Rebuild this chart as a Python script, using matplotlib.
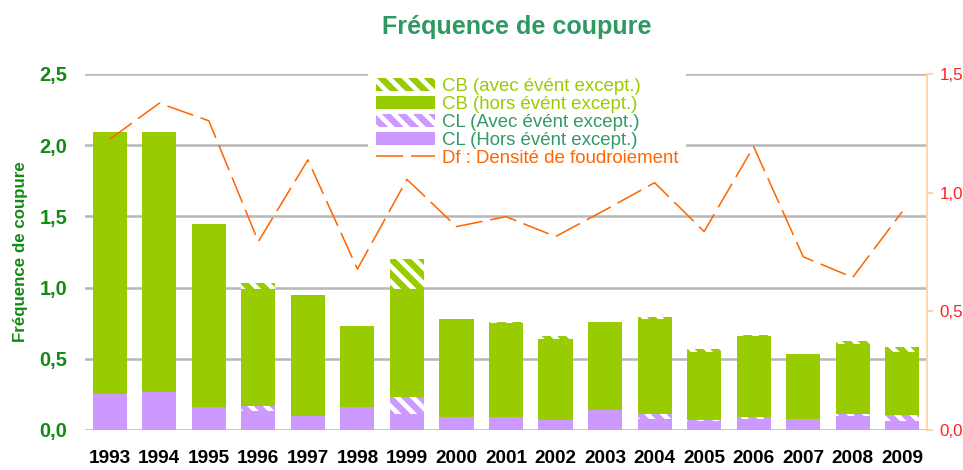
import matplotlib
matplotlib.use("Agg")
import matplotlib.pyplot as plt
import numpy as np

plt.rcParams['font.family'] = ['Liberation Sans', 'DejaVu Sans']
plt.rcParams['hatch.linewidth'] = 2.4
plt.rcParams['lines.scale_dashes'] = False

annees = [str(a) for a in range(1993, 2010)]
cl_hors = [0.25, 0.265, 0.16, 0.13, 0.10, 0.16, 0.115, 0.09, 0.09, 0.07,
           0.14, 0.08, 0.06, 0.08, 0.08, 0.095, 0.065]
cl_avec = [0, 0, 0, 0.04, 0, 0, 0.115, 0, 0, 0,
           0, 0.035, 0.01, 0.012, 0, 0.015, 0.04]
cb_hors = [1.84, 1.825, 1.29, 0.82, 0.85, 0.57, 0.76, 0.69, 0.66, 0.567,
           0.62, 0.662, 0.48, 0.565, 0.454, 0.494, 0.441]
cb_avec = [0, 0, 0, 0.045, 0, 0, 0.213, 0, 0.006, 0.023,
           0, 0.019, 0.017, 0.012, 0, 0.021, 0.035]
densite = [1.225, 1.377, 1.303, 0.794, 1.138, 0.678, 1.056, 0.857, 0.899, 0.815,
           0.927, 1.042, 0.836, 1.194, 0.73, 0.643, 0.92]

vert = '#99cc00'
violet = '#cc99ff'
orange = '#ff6600'
vert_fonce = '#138a13'

dpi = 140
fig = plt.figure(figsize=(963 / dpi, 470 / dpi), dpi=dpi)
ax = fig.add_axes([85 / 963, 40 / 470, 842 / 963, 356 / 470])

x = np.arange(len(annees))
w = 0.69
b1 = np.array(cl_hors)
b2 = b1 + np.array(cl_avec)
b3 = b2 + np.array(cb_hors)

# barres empilees : CL puis CB, partie "avec evenement" hachuree en blanc
h_clh = ax.bar(x, cl_hors, w, color=violet, linewidth=0)
h_cla = ax.bar(x, cl_avec, w, bottom=b1, color=violet, edgecolor='white', linewidth=0,
               hatch='\\\\\\')
h_cbh = ax.bar(x, cb_hors, w, bottom=b2, color=vert, linewidth=0)
h_cba = ax.bar(x, cb_avec, w, bottom=b3, color=vert, edgecolor='white', linewidth=0,
               hatch='\\\\\\')

ax.set_xlim(-0.5, len(annees) - 0.5)
ax.set_ylim(0, 2.5)
ax.set_yticks(np.arange(0, 2.51, 0.5))
ax.set_yticklabels([f"{v:.1f}".replace('.', ',') for v in np.arange(0, 2.51, 0.5)],
                   color=vert_fonce, fontsize=10.3, fontweight='bold')
ax.set_xticks(x)
ax.set_xticklabels(annees, fontsize=9.8, fontweight='bold', color='black')
ax.tick_params(axis='x', length=0, pad=10.5)
ax.tick_params(axis='y', length=0, pad=9)
ax.grid(axis='y', color='#b8b8b8', linewidth=1.3)
ax.set_axisbelow(True)
for s in ax.spines.values():
    s.set_visible(False)
ax.set_ylabel('Fréquence de coupure', color=vert_fonce, fontsize=8.7, fontweight='bold')
ax.yaxis.set_label_coords(-57 / 842, 0.5)

# densite de foudroiement sur l'axe de droite
ax2 = ax.twinx()
l_df, = ax2.plot(x, densite, color=orange, linewidth=0.8, dashes=(14, 4))
ax2.set_ylim(0, 1.5)
ax2.set_yticks([0, 0.5, 1.0, 1.5])
ax2.set_yticklabels(['0,0', '0,5', '1,0', '1,5'], color='#ff2020', fontsize=8.7)
ax2.tick_params(axis='y', length=3, width=0.8, color='#ffc890', pad=3.5)
for s in ax2.spines.values():
    s.set_visible(False)
ax2.spines['right'].set_visible(True)
ax2.spines['right'].set_color('#ffd0a0')
ax2.spines['right'].set_linewidth(0.9)

leg = ax2.legend([h_cba, h_cbh, h_cla, h_clh, l_df],
                 ['CB (avec évént except.)', 'CB (hors évént except.)',
                  'CL (Avec évént except.)', 'CL (Hors évént except.)',
                  'Df : Densité de foudroiement'],
                 loc='upper left', bbox_to_anchor=(369 / 963, 1 - 71 / 470),
                 bbox_transform=fig.transFigure, fontsize=9.6, frameon=True,
                 fancybox=False, edgecolor='white', framealpha=1,
                 borderpad=0.35, borderaxespad=0, labelspacing=0.05,
                 handlelength=3.2, handleheight=0.7, handletextpad=0.35)
cols = [vert, vert, '#339966', '#339966', orange]
for t, c in zip(leg.get_texts(), cols):
    t.set_color(c)

fig.text(517 / 963, 1 - 27 / 470, 'Fréquence de coupure', color='#2e9960',
         fontsize=12.9, fontweight='bold', ha='center', va='center')

fig.savefig('out.png', dpi=dpi)
